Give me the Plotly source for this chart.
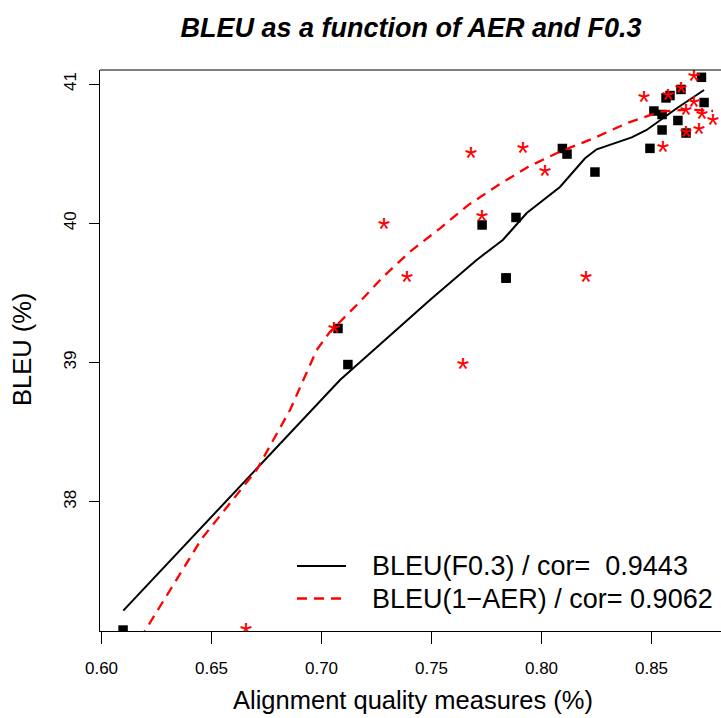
import plotly.graph_objects as go

# ---- data ----
bleu = [37.08, 39.245, 38.986, 39.988, 39.607, 39.607, 40.042, 40.537, 40.497, 40.368,
        40.538, 40.806, 40.781, 40.670, 40.900, 40.917, 40.738, 40.961, 40.648, 41.048, 40.867]
f03 = [0.6098, 0.7075, 0.7120, 0.7730, 0.7839, 0.7839, 0.7884, 0.8095, 0.8116, 0.8243,
       0.8493, 0.8511, 0.8548, 0.8548, 0.8566, 0.8584, 0.8620, 0.8634, 0.8657, 0.8727, 0.8739]
one_minus_aer = [0.6657, 0.7057, 0.7643, 0.7284, 0.7389, 0.8202, 0.7730, 0.7916, 0.7680, 0.8016,
                 0.8552, 0.8657, 0.8730, 0.8716, 0.8466, 0.8575, 0.8780, 0.8634, 0.8657, 0.8693, 0.8693]

curve_f_x = [0.6099, 0.6705, 0.7084, 0.7493, 0.7705, 0.7824, 0.7933, 0.8084, 0.8198, 0.8251,
             0.8410, 0.8478, 0.8539, 0.8615, 0.8739]
curve_f_y = [37.219, 38.236, 38.875, 39.449, 39.737, 39.880, 40.074, 40.261, 40.467, 40.531,
             40.617, 40.670, 40.742, 40.826, 40.957]

curve_a_x = [0.6175, 0.6220, 0.6455, 0.6705, 0.6857, 0.6978, 0.7039, 0.7160, 0.7281, 0.7402,
             0.7539, 0.7667, 0.7804, 0.7940, 0.8084, 0.8236, 0.8387, 0.8539, 0.8666, 0.8780]
curve_a_y = [37.016, 37.133, 37.735, 38.229, 38.660, 39.090, 39.222, 39.413, 39.617, 39.796,
             39.964, 40.131, 40.275, 40.406, 40.514, 40.610, 40.718, 40.801, 40.817, 40.806]

x_ticks = [0.60, 0.65, 0.70, 0.75, 0.80, 0.85]
x_tick_labels = ["0.60", "0.65", "0.70", "0.75", "0.80", "0.85"]
y_ticks = [38, 39, 40, 41]
y_tick_labels = ["38", "39", "40", "41"]

legend_labels = ["BLEU(F0.3) / cor=\u00a0\u00a00.9443", "BLEU(1\u2212AER) / cor=\u00a00.9062"]
title = "BLEU as a function of AER and F0.3"
x_title = "Alignment quality measures (%)"
y_title = "BLEU (%)"

FONT = "Liberation Sans, Arial, Helvetica, sans-serif"
W, H = 721, 718
ML, MR, MT, MB = 100, 0, 70, 87
X_RANGE = [0.59932, 0.88159]
Y_RANGE = [37.0732, 41.1005]
plot_w = W - ML - MR
plot_h = H - MT - MB
px_per_unit = plot_h / (Y_RANGE[1] - Y_RANGE[0])


def px_x(px):
    return (px - ML) / plot_w


def px_y(py):
    return (H - MB - py) / plot_h


STAR_FONT = 32
star_shift = 0.22 * STAR_FONT / px_per_unit

fig = go.Figure()

fig.add_trace(go.Scatter(x=f03, y=bleu, mode="markers",
                         marker=dict(symbol="square", size=9.5, color="black", line=dict(width=0)),
                         showlegend=False, hoverinfo="skip"))
fig.add_trace(go.Scatter(x=one_minus_aer, y=bleu, mode="text", text=["*"] * len(bleu),
                         textposition="middle center",
                         textfont=dict(family=FONT, size=STAR_FONT, color="red"),
                         yaxis="y2", showlegend=False, hoverinfo="skip"))
fig.add_trace(go.Scatter(x=curve_f_x, y=curve_f_y, mode="lines",
                         line=dict(color="black", width=2), showlegend=False, hoverinfo="skip"))
fig.add_trace(go.Scatter(x=curve_a_x, y=curve_a_y, mode="lines",
                         line=dict(color="red", width=2.3, dash="10px,7px"),
                         showlegend=False, hoverinfo="skip"))

annotations = [
    dict(text=x_title, x=px_x(413), y=px_y(700), xref="paper", yref="paper",
         showarrow=False, xanchor="center", yanchor="middle",
         font=dict(family=FONT, size=25.5, color="black")),
    dict(text=y_title, x=px_x(22), y=px_y(350), xref="paper", yref="paper",
         showarrow=False, xanchor="center", yanchor="middle", textangle=-90,
         font=dict(family=FONT, size=25.5, color="black")),
]
shapes = [
    dict(type="line", xref="paper", yref="paper", x0=0, x1=1, y0=1, y1=1,
         line=dict(color="black", width=1)),
]
# legend
leg_y = [566, 598.5]
leg_styles = [dict(color="black", width=2), dict(color="red", width=2.3, dash="10px,7px")]
for yy, lab, st in zip(leg_y, legend_labels, leg_styles):
    shapes.append(dict(type="line", xref="paper", yref="paper",
                       x0=px_x(297), x1=px_x(346), y0=px_y(yy), y1=px_y(yy), line=st))
    annotations.append(dict(text=lab, xref="paper", yref="paper",
                            x=px_x(370), y=px_y(yy), showarrow=False,
                            xanchor="left", yanchor="middle",
                            font=dict(family=FONT, size=27, color="black")))

fig.update_layout(
    width=W, height=H,
    margin=dict(l=ML, r=MR, t=MT, b=MB, pad=0),
    paper_bgcolor="white", plot_bgcolor="white",
    hovermode=False,
    title=dict(text=title, x=411 / W, xref="container", xanchor="center",
               y=1 - 28 / H, yref="container", yanchor="middle",
               font=dict(family=FONT, size=27, color="black", weight="bold", style="italic")),
    xaxis=dict(range=X_RANGE, tickmode="array", tickvals=x_ticks, ticktext=x_tick_labels,
               ticks="outside", ticklen=12, tickwidth=1, tickcolor="black",
               showline=True, linecolor="black", linewidth=1, mirror=False,
               showgrid=False, zeroline=False, ticklabelstandoff=10,
               tickfont=dict(family=FONT, size=17, color="black")),
    yaxis=dict(range=Y_RANGE, tickmode="array", tickvals=y_ticks, ticktext=y_tick_labels,
               ticks="outside", ticklen=10, tickwidth=1, tickcolor="black", tickangle=-90,
               showline=True, linecolor="black", linewidth=1, mirror=False,
               showgrid=False, zeroline=False, ticklabelstandoff=6,
               tickfont=dict(family=FONT, size=17, color="black")),
    yaxis2=dict(range=[Y_RANGE[0] + star_shift, Y_RANGE[1] + star_shift], overlaying="y",
                visible=False, showgrid=False, zeroline=False),
    annotations=annotations,
    shapes=shapes,
    showlegend=False,
)

fig.write_html("out.html", config={"displayModeBar": False, "staticPlot": True},
               post_script="document.body.style.margin='0';")
